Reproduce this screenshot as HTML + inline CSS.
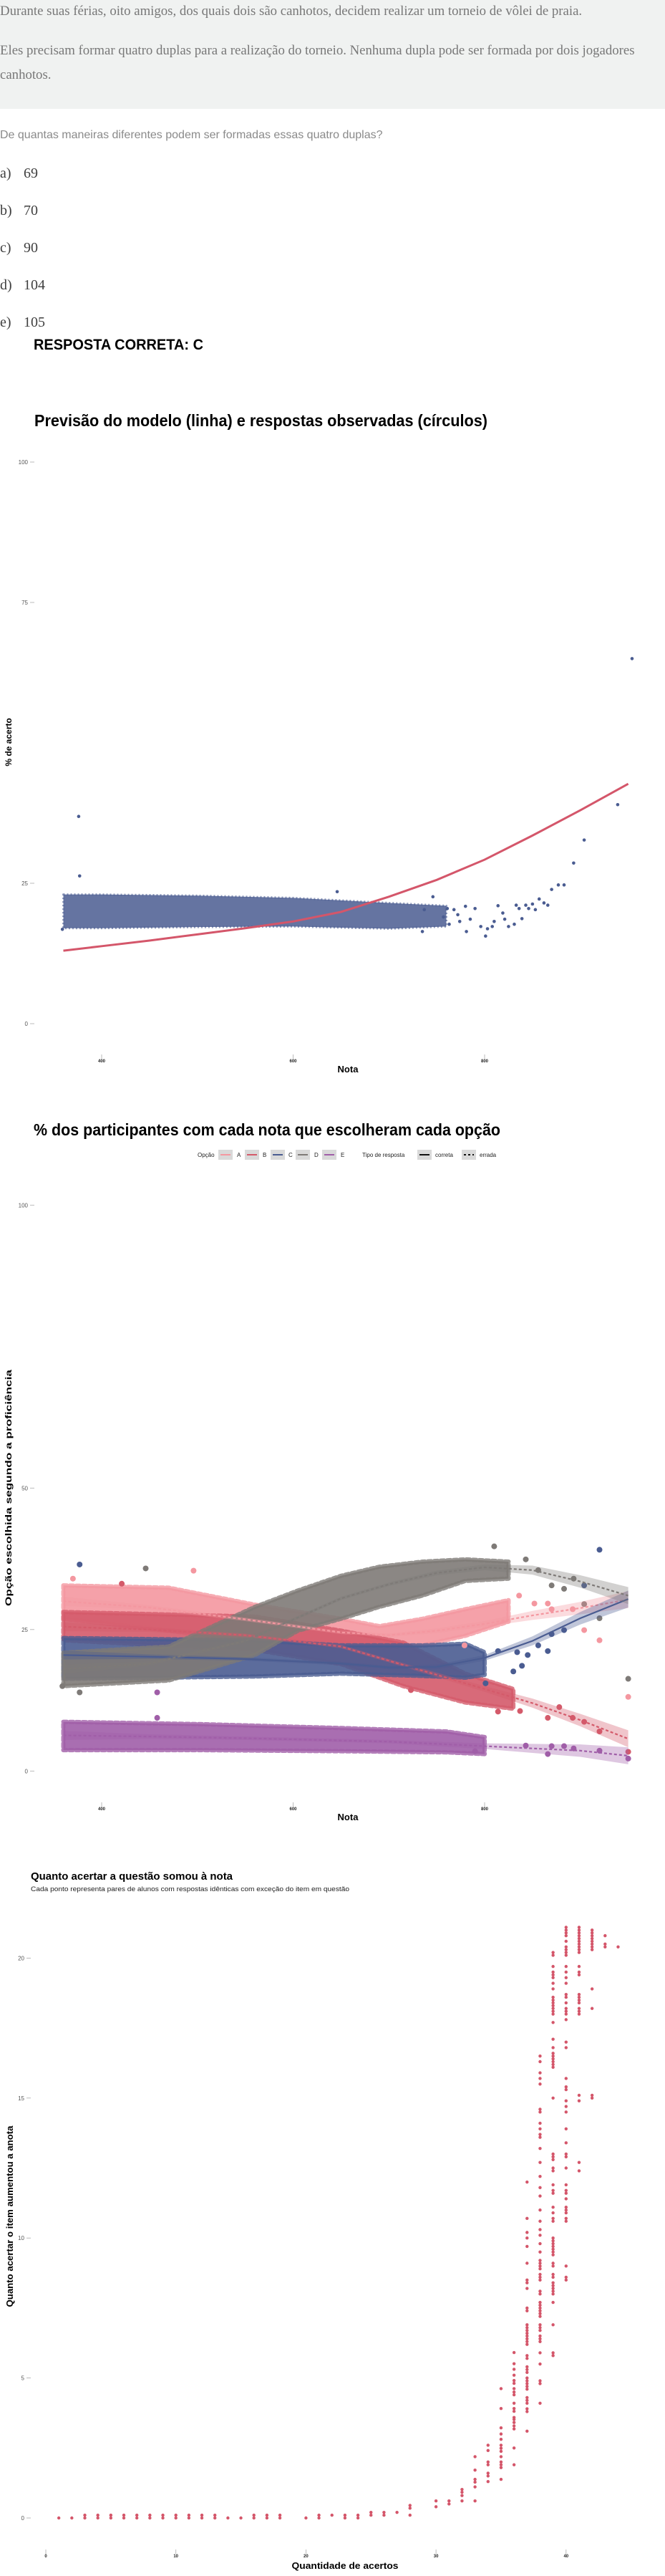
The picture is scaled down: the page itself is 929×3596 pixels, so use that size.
<!DOCTYPE html>
<html><head><meta charset="utf-8">
<style>
html,body{margin:0;padding:0;background:#fff;}
body{width:929px;height:3596px;position:relative;overflow:hidden;font-family:"Liberation Sans",sans-serif;}
#box{position:absolute;left:0;top:0;width:929px;height:152px;background:#f0f2f1;}
.ser{position:absolute;left:0;font-family:"Liberation Serif",serif;color:#787878;font-size:18.8px;white-space:nowrap;}
.opt{position:absolute;left:0;font-family:"Liberation Serif",serif;color:#3f3f3f;font-size:20px;white-space:nowrap;}
.opt span{position:absolute;left:33px;}
svg{position:absolute;left:0;top:0;}
</style></head><body>
<div id="box">
<div class="ser" style="top:5px">Durante suas férias, oito amigos, dos quais dois são canhotos, decidem realizar um torneio de vôlei de praia.</div>
<div class="ser" style="top:60px">Eles precisam formar quatro duplas para a realização do torneio. Nenhuma dupla pode ser formada por dois jogadores</div>
<div class="ser" style="top:94px">canhotos.</div>
</div>
<div style="position:absolute;left:0;top:180px;font-size:16px;color:#8a8a8a;white-space:nowrap">De quantas maneiras diferentes podem ser formadas essas quatro duplas?</div>
<div class="opt" style="top:231px">a)<span>69</span></div>
<div class="opt" style="top:283px">b)<span>70</span></div>
<div class="opt" style="top:335px">c)<span>90</span></div>
<div class="opt" style="top:387px">d)<span>104</span></div>
<div class="opt" style="top:439px">e)<span>105</span></div>

<svg id="s" width="929" height="3596" font-family="Liberation Sans, sans-serif">
<text x="47" y="488" font-size="21" font-weight="bold" textLength="237" lengthAdjust="spacingAndGlyphs">RESPOSTA CORRETA: C</text>
<text x="48" y="595" font-size="23" font-weight="bold" textLength="633" lengthAdjust="spacingAndGlyphs">Previsão do modelo (linha) e respostas observadas (círculos)</text>
<text x="486" y="1497" font-size="13" font-weight="bold" text-anchor="middle">Nota</text>
<text transform="translate(16,1036) rotate(-90)" font-size="12" font-weight="bold" text-anchor="middle">% de acerto</text>
<text x="47" y="1585" font-size="23" font-weight="bold" textLength="652" lengthAdjust="spacingAndGlyphs">% dos participantes com cada nota que escolheram cada opção</text>
<text x="486" y="2541" font-size="13" font-weight="bold" text-anchor="middle">Nota</text>
<text transform="translate(16,2077) rotate(-90)" font-size="12" font-weight="bold" text-anchor="middle" textLength="330" lengthAdjust="spacingAndGlyphs">Opção escolhida segundo a proficiência</text>
<text x="43" y="2624" font-size="15" font-weight="bold" textLength="282" lengthAdjust="spacingAndGlyphs">Quanto acertar a questão somou à nota</text>
<text x="43" y="2640" font-size="9" fill="#222" textLength="445" lengthAdjust="spacingAndGlyphs">Cada ponto representa pares de alunos com respostas idênticas com exceção do item em questão</text>
<text x="482" y="3586" font-size="13" font-weight="bold" text-anchor="middle" textLength="149" lengthAdjust="spacingAndGlyphs">Quantidade de acertos</text>
<text transform="translate(18,3094) rotate(-90)" font-size="13" font-weight="bold" text-anchor="middle" textLength="253" lengthAdjust="spacingAndGlyphs">Quanto acertar o item aumentou a anota</text>
<g id="legend" font-size="8" fill="#222">
<text x="276" y="1615">Opção</text>
<rect x="305" y="1605" width="20" height="14" fill="#d9d9d9"/><line x1="308" x2="322" y1="1612" y2="1612" stroke="#f497a0" stroke-width="2"/><text x="331" y="1615">A</text>
<rect x="342" y="1605" width="20" height="14" fill="#d9d9d9"/><line x1="345" x2="359" y1="1612" y2="1612" stroke="#d45a6a" stroke-width="2"/><text x="367" y="1615">B</text>
<rect x="378" y="1605" width="20" height="14" fill="#d9d9d9"/><line x1="381" x2="395" y1="1612" y2="1612" stroke="#4a5c91" stroke-width="2"/><text x="403" y="1615">C</text>
<rect x="413" y="1605" width="20" height="14" fill="#d9d9d9"/><line x1="416" x2="430" y1="1612" y2="1612" stroke="#7e7a77" stroke-width="2"/><text x="439" y="1615">D</text>
<rect x="450" y="1605" width="20" height="14" fill="#d9d9d9"/><line x1="453" x2="467" y1="1612" y2="1612" stroke="#a05ea8" stroke-width="2"/><text x="476" y="1615">E</text>
<text x="506" y="1615">Tipo de resposta</text>
<rect x="583" y="1605" width="20" height="14" fill="#d9d9d9"/><line x1="586" x2="600" y1="1612" y2="1612" stroke="#111" stroke-width="2"/><text x="608" y="1615">correta</text>
<rect x="645" y="1605" width="20" height="14" fill="#d9d9d9"/><line x1="648" x2="662" y1="1612" y2="1612" stroke="#111" stroke-width="2" stroke-dasharray="3,3"/><text x="670" y="1615">errada</text>
</g>
</svg>
<script>
// ---- Chart 1 data ----
const c1Ticks = [0, 25, 75, 100];
const c1XTicks = [400, 600, 800];
const c1CurveNota = [360,400,450,500,550,600,650,700,750,800,850,900,950];
const c1CurvePct = [13,13.8,14.8,15.9,17.0,18.2,19.9,22.6,25.6,29.2,33.5,38,42.7];
const c1BandNota = [360,400,500,600,700,760];
const c1BandLow = [17,17,17.2,17.3,16.9,17.3];
const c1BandHigh = [23,23,22.8,22.4,21.5,21];
const c1PtNota = [870,877,883,857,862,866,850,853,843,846,833,836,839,831,825,819,814,821,810,808,801,803,796,790,781,780,785,772,763,761,737,735,746,757,768,774,377,359,646,904,893,954,376,939];
const c1PtPct = [23.9,24.7,24.7,22.2,21.5,21.1,21.3,20.3,21.1,20.5,21.1,20.5,18.7,17.7,17.3,19.7,21.0,18.6,18.2,17.3,15.6,16.9,17.3,20.5,16.4,20.9,18.6,19.4,17.7,20.5,20.3,16.4,22.6,19.0,20.3,18.2,26.3,16.8,23.5,32.7,28.6,65,36.9,39];

// ---- Chart 2 data ----
const c2Ticks = [0, 25, 50, 100];
const c2Options = ['A','B','C','D','E'];
const c2BandNota = {
 A:[360,470,560,650,690,735,780,825], B:[360,560,650,715,780,830],
 C:[360,560,650,735,780,800], D:[360,470,560,605,650,690,735,780,825], E:[360,500,650,760,800]};
const c2BandLow = {
 A:[26.9,24.8,22.7,22.7,21.8,22.2,23.9,26.4], B:[23.1,21.4,18.9,15,12.1,11],
 C:[16.3,16.7,17.2,16.8,16.5,17], D:[15,16,20.5,24.8,26.9,29,31,33.6,34], E:[3.7,3.7,3.5,3.3,3]};
const c2BandHigh = {
 A:[32.8,32.4,29.4,26.9,25.6,26.9,28.6,30.2], B:[28.1,27.3,24.8,22.7,17.2,14.5],
 C:[23.5,23.1,22.2,22.2,22.5,21], D:[20.9,22,29,31.9,34.5,36.1,37,37.4,37], E:[8.7,8.3,7.6,7,6]};
const c2LineNota = [360,450,550,650,700,750,800,850,900,950];
const c2LinePct = {
 A:[30,28.9,26.8,24.5,24,24.8,26,27.5,28.8,30.3],
 B:[25.5,25,24,22,19.5,17,14.5,12,9,5.7],
 C:[20.5,20.2,19.8,19,18.3,18.4,20,23,27,30.4],
 D:[18,19,23,30.5,33,35,36,35.5,33.5,31],
 E:[6.3,6.1,5.8,5.4,5.2,4.8,4.4,4.0,3.6,2.7]};
const c2Ribbon = [0.8,0.4,0.3,0.3,0.3,0.4,0.5,0.8,1.1,1.5];
const c2PtNota = {
 A:[836,852,866,870,892,904,920,950,779,496,370],
 B:[814,837,866,878,892,904,920,950,421,723],
 C:[814,834,845,856,866,830,839,870,883,904,920,377,801],
 D:[810,843,856,870,883,893,904,920,950,446,377,359],
 E:[843,866,870,883,893,920,950,458,458,790]};
const c2PtPct = {
 A:[31,29.6,29.6,28.6,28.6,24.9,23.1,13.1,22.2,35.4,34],
 B:[10.5,10.6,9.4,11.3,9.4,8.7,7.0,3.4,33.1,14.3],
 C:[21.2,21,20.5,22.2,21.2,17.6,18.6,24.2,24.9,32.8,39.1,36.5,15.5],
 D:[39.7,37.4,35.5,32.8,32.2,34,29.5,27,16.3,35.8,13.9,15],
 E:[4.5,3.0,4.4,4.4,4.0,3.6,2.2,13.9,9.4,3.5]};

// ---- Chart 3 data ----
const c3Ticks = [0,5,10,15,20];
const c3XTicks = [0,10,20,30,40];
const c3Acertos = [1,2,3,4,5,6,7,8,9,10,11,12,13,14,15,16,17,18,20,21,22,23,24,25,26,27,28,30,31,32,33,34,35,36,37,38,39,40,41,42,43,44];
const c3Ganhos = [
 [0],[0],[0.1,0],[0.1,0],[0.1,0],[0.1,0],[0.1,0],[0.1,0],[0.1,0],[0.1,0],[0.1,0],[0.1,0],[0.1,0],[0],[0],[0.1,0],[0.1,0],[0.1,0],[0],[0.1,0],[0.1],[0.1,0],[0.1,0],[0.2,0.1],[0.2,0.1],[0.2],[0.45,0.35,0.1],
 [0.61,0.4],[0.61,0.5],[1.02,0.92,0.8,0.61],[2.19,1.71,1.38,1.28,1.11,0.61],[2.6,2.41,2.0,1.9,1.6,1.5,1.3],
 [4.62,3.91,3.22,3.0,2.81,2.6,2.49,2.38,2.19,2.0,1.9,1.8,1.38],
 [5.91,5.51,5.31,5.1,4.91,4.81,4.62,4.5,4.4,4.1,3.91,3.81,3.59,3.52,3.41,3.29,3.18,2.5,1.9],
 [12.0,10.7,10.2,10.0,9.7,9.1,8.5,8.4,8.2,7.5,7.4,6.9,6.8,6.7,6.6,6.5,6.4,6.3,6.2,5.8,5.7,5.4,5.3,5.2,5.0,4.9,4.8,4.7,4.6,4.3,4.2,4.1,3.9,3.8,3.1],
 [16.5,16.3,15.9,15.7,15.5,14.6,14.5,14.1,13.9,13.7,13.6,13.2,12.7,12.2,11.8,11.5,11.0,10.6,10.3,10.1,9.8,9.5,9.2,9.1,9.0,8.9,8.7,8.6,8.5,8.1,8.0,7.7,7.6,7.5,7.4,7.3,7.2,6.9,6.8,6.7,6.5,6.4,6.3,5.9,5.5,4.9,4.8,4.1],
 [20.2,20.1,19.7,19.5,19.4,19.3,19.1,18.9,18.6,18.5,18.4,18.3,18.2,18.1,18.0,17.7,17.1,16.8,16.6,16.5,16.4,16.3,16.2,16.1,15.0,13.0,12.9,12.8,12.5,12.4,11.9,11.7,11.6,11.1,10.9,10.7,10.6,10.0,9.9,9.8,9.7,9.6,9.5,9.4,9.1,9.0,8.7,8.6,8.4,8.3,8.2,8.1,8.0,7.7,6.9,5.9,5.8],
 [21.1,21.0,20.9,20.8,20.6,20.4,20.3,20.2,20.1,19.7,19.5,19.3,19.1,18.7,18.6,18.4,18.2,18.1,18.0,17.8,17.0,16.8,15.7,15.4,15.3,14.9,14.7,14.5,13.9,13.4,13.0,12.9,12.5,11.9,11.7,11.6,11.4,11.1,11.0,10.9,10.7,10.6,9.0,8.6,8.5],
 [21.1,21.0,20.9,20.8,20.7,20.6,20.5,20.4,20.3,20.2,19.7,19.5,19.4,18.7,18.6,18.5,18.4,18.2,18.1,18.0,15.1,14.9,12.7,12.4],
 [21.0,20.9,20.8,20.7,20.6,20.5,20.4,20.3,18.9,18.2,15.1,15.0],
 [20.8,20.5,20.4],[20.4]];

const COL = {A:'#f497a0',B:'#d45a6a',C:'#4a5c91',D:'#7e7a77',E:'#a05ea8'};
const NS = 'http://www.w3.org/2000/svg';
const svg = document.getElementById('s');
function mk(tag, attrs, parent){const e=document.createElementNS(NS,tag);for(const k in attrs)e.setAttribute(k,attrs[k]);(parent||svg).appendChild(e);return e;}
const xN = n => 142 + (n-400)*1.3375;
const y1 = p => 1429 - p*7.84;
const y2 = p => 2472.3 - p*7.9;
const x3 = a => 64 + a*18.17;
const y3 = v => 3515 - v*39.08;

function yAxis(ticks, yf, name, lx){
  const g = mk('g',{});
  
  
  ticks.forEach(t=>{
    const tx = mk('text',{x:lx,y:yf(t)+3,'font-size':8,'text-anchor':'end',fill:'#555'},g);
    
    
    tx.textContent = t;
    mk('line',{x1:lx+3,x2:lx+9,y1:yf(t),y2:yf(t),stroke:'#aaa','stroke-width':0.8},g);
  });
}
function xAxis(ticks, xf, y, name){
  const g = mk('g',{});
  
  
  ticks.forEach(t=>{
    mk('line',{x1:xf(t),x2:xf(t),y1:y-11,y2:y-5,stroke:'#aaa','stroke-width':0.8},g);
    const tx = mk('text',{x:xf(t),y:y,'font-size':6,'font-weight':'bold','text-anchor':'middle',fill:'#222'},g);
    
    
    tx.textContent = t;
  });
}
function bandPath(ns, lo, hi, xf, yf){
  let d = 'M'+ns.map((n,i)=>xf(n)+','+yf(hi[i])).join('L');
  for(let i=ns.length-1;i>=0;i--) d+='L'+xf(ns[i])+','+yf(lo[i]);
  return d+'Z';
}
function linePath(ns, vs, xf, yf){return 'M'+ns.map((n,i)=>xf(n)+','+yf(vs[i])).join('L');}

// Chart 1
yAxis(c1Ticks, y1, 'chart1-y-axis', 39);
xAxis(c1XTicks, xN, 1483, 'chart1-x-axis');
const b1 = mk('path',{d:bandPath(c1BandNota,c1BandLow,c1BandHigh,xN,y1),fill:'#4a5c91','fill-opacity':0.85,stroke:'#4a5c91','stroke-opacity':0.6,'stroke-width':3,'stroke-linejoin':'round','stroke-dasharray':'2,3'});


c1PtNota.forEach((n,i)=>{
  const c = mk('circle',{cx:xN(n),cy:y1(c1PtPct[i]),r:2.3,fill:'#4a5c91'});
  
  
});
const l1 = mk('path',{d:linePath(c1CurveNota,c1CurvePct,xN,y1),fill:'none',stroke:'#d4566a','stroke-width':3});



// Chart 2
yAxis(c2Ticks, y2, 'chart2-y-axis', 39);
xAxis(c1XTicks, xN, 2527, 'chart2-x-axis');
c2Options.forEach(o=>{
  const b = mk('path',{d:bandPath(c2BandNota[o],c2BandLow[o],c2BandHigh[o],xN,y2),fill:COL[o],'fill-opacity':0.9,stroke:COL[o],'stroke-opacity':0.8,'stroke-width':6,'stroke-linejoin':'round','stroke-linecap':'round','stroke-dasharray':'5,4'});
  
  
});
c2Options.forEach(o=>{
  c2PtNota[o].forEach((n,i)=>{
    const c = mk('circle',{cx:xN(n),cy:y2(c2PtPct[o][i]),r:4,fill:COL[o]});
    
    
  });
});
c2Options.forEach(o=>{
  const lo = c2LinePct[o].map((v,i)=>v-c2Ribbon[i]);
  const hi = c2LinePct[o].map((v,i)=>v+c2Ribbon[i]);
  const r = mk('path',{d:bandPath(c2LineNota,lo,hi,xN,y2),fill:COL[o],'fill-opacity':0.35});
  
  
  const l = mk('path',{d:linePath(c2LineNota,c2LinePct[o],xN,y2),fill:'none',stroke:COL[o],'stroke-width':2.2,'stroke-dasharray':o==='C'?'none':'4,3'});
  
  
});

// Chart 3
yAxis(c3Ticks, y3, 'chart3-y-axis', 34);
xAxis(c3XTicks, x3, 3570, 'chart3-x-axis');
c3Acertos.forEach((a,i)=>{
  c3Ganhos[i].forEach(v=>{
    const c = mk('circle',{cx:x3(a),cy:y3(v),r:2.2,fill:'#d4566a'});
    
    
  });
});
</script>
</body></html>
